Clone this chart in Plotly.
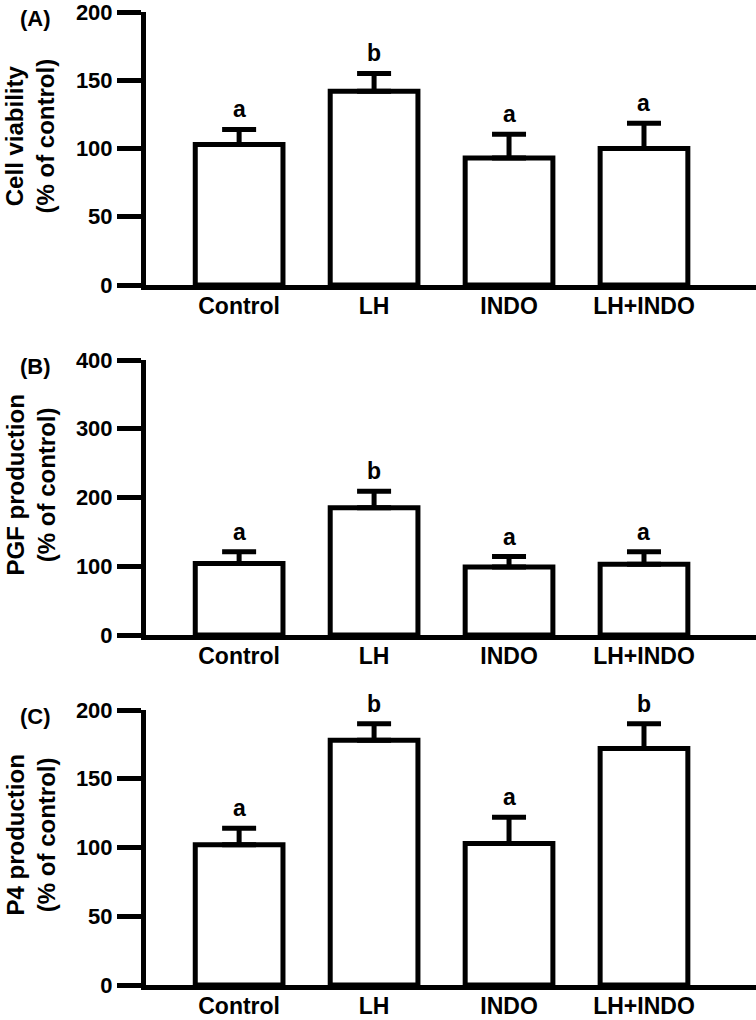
import plotly.graph_objects as go

W, H = 756, 1020

categories = ["Control", "LH", "INDO", "LH+INDO"]

viability_mean = [103, 142, 93, 100]
viability_err = [11, 13, 17.5, 18.5]
viability_letters = ["a", "b", "a", "a"]

pgf_mean = [104, 185, 99, 103]
pgf_err = [17, 24, 15, 18]
pgf_letters = ["a", "b", "a", "a"]

p4_mean = [102, 178, 103, 172]
p4_err = [12, 12, 19, 18]
p4_letters = ["a", "b", "a", "b"]

panel_labels = ["(A)", "(B)", "(C)"]
y_titles = ["Cell viability<br>(% of control)", "PGF production<br>(% of control)", "P4 production<br>(% of control)"]
y_ranges = [[0, 200], [0, 400], [0, 200]]
y_dticks = [50, 100, 50]

FONT = "Liberation Sans, Arial, sans-serif"

# pixel geometry of each panel (top px of max tick, bottom px of zero)
panels_px = [(12, 285), (360, 635), (710, 985)]
x_left_px = 146

fig = go.Figure()

data = [
    (viability_mean, viability_err, viability_letters),
    (pgf_mean, pgf_err, pgf_letters),
    (p4_mean, p4_err, p4_letters),
]

annotations = []
layout_axes = {}
for i, ((means, errs, letters), (top, bot)) in enumerate(zip(data, panels_px)):
    n = i + 1
    xa = "x" if n == 1 else f"x{n}"
    ya = "y" if n == 1 else f"y{n}"
    fig.add_trace(go.Bar(
        x=list(range(len(categories))), y=means,
        xaxis=xa, yaxis=ya,
        width=0.65,
        marker=dict(color="white", line=dict(color="black", width=5)),
        error_y=dict(type="data", array=errs, arrayminus=[0] * len(errs), symmetric=False,
                     color="black", thickness=5, width=17),
        showlegend=False, hoverinfo="skip",
    ))
    for j, (m, e, L) in enumerate(zip(means, errs, letters)):
        annotations.append(dict(
            x=j, y=m + e, xref=xa, yref=ya, text=L, showarrow=False,
            yanchor="bottom", xanchor="center", yshift=5,
            font=dict(family=FONT, size=23, color="black", weight="bold"),
        ))
    ydom = [1 - bot / H, 1 - top / H]
    layout_axes[("xaxis" if n == 1 else f"xaxis{n}")] = dict(
        domain=[x_left_px / W, 1], anchor=ya, range=[-0.69, 3.83],
        showline=True, linewidth=5, linecolor="black",
        tickmode="array", tickvals=list(range(len(categories))), ticktext=categories,
        ticks="", showgrid=False, zeroline=False, fixedrange=True, automargin=False,
        ticklabelstandoff=-4, ticklabeloverflow="allow",
        tickfont=dict(family=FONT, size=23, color="black", weight="bold"),
    )
    layout_axes[("yaxis" if n == 1 else f"yaxis{n}")] = dict(
        domain=ydom, anchor=xa, range=y_ranges[i], dtick=y_dticks[i],
        showline=True, linewidth=5, linecolor="black",
        ticks="outside", ticklen=24, tickwidth=5, tickcolor="black",
        showgrid=False, zeroline=False, automargin=False, ticklabeloverflow="allow",
        fixedrange=True,
        tickfont=dict(family=FONT, size=22, color="black", weight="bold"),
    )
    annotations.append(dict(
        x=30 / W, y=1 - ((top + bot) / 2 - 12) / H, xref="paper", yref="paper",
        text=y_titles[i], textangle=-90, showarrow=False,
        xanchor="center", yanchor="middle",
        font=dict(family=FONT, size=24, color="black", weight="bold"),
    ))
    annotations.append(dict(
        x=18 / W, y=1 - (top + 6) / H, xref="paper", yref="paper",
        text=panel_labels[i], showarrow=False,
        xanchor="left", yanchor="middle",
        font=dict(family=FONT, size=22, color="black", weight="bold"),
    ))

fig.update_layout(
    width=W, height=H,
    margin=dict(l=0, r=0, t=0, b=0),
    paper_bgcolor="white", plot_bgcolor="white",
    annotations=annotations,
    **layout_axes,
)

fig.write_html("out.html", config={"displayModeBar": False},
               post_script="document.body.style.margin='0px';")
